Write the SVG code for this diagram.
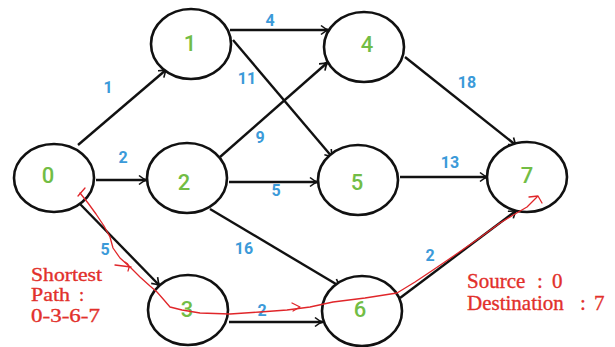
<svg xmlns="http://www.w3.org/2000/svg" width="615" height="347" viewBox="0 0 615 347">
  <style>
    .node { fill: #ffffff; stroke: #111111; stroke-width: 2.6; }
    .nlabel { font-family: Roboto, "Liberation Sans", sans-serif; font-size: 22px; font-weight: 500; fill: #72bd45; text-anchor: middle; }
    .edge { stroke: #111111; stroke-width: 2.4; fill: none; marker-end: url(#arrow); }
    .weight { font-family: Roboto, "Liberation Sans", sans-serif; font-size: 16px; font-weight: 700; fill: #3b9ad9; text-anchor: middle; }
    .note { font-family: "Liberation Serif", serif; font-size: 21px; fill: #e2302b; stroke: #e2302b; stroke-width: 0.35; }
    .note.small { font-size: 18.5px; }
    .route { stroke: #e0262a; stroke-width: 1.3; fill: none; stroke-linejoin: round; stroke-linecap: round; }
  </style>
  <defs>
    <marker id="arrow" markerUnits="userSpaceOnUse" markerWidth="12" markerHeight="12" refX="10" refY="6" orient="auto">
      <path d="M2,1.5 Q6,5 10,6 Q6,7 2,10.5" fill="none" stroke="#111111" stroke-width="1.6"/>
    </marker>
  </defs>

  <rect width="615" height="347" fill="#ffffff"/>

  <!-- connectors -->
  <g id="edges">
    <line class="edge" x1="78" y1="145" x2="167" y2="69"/>
    <line class="edge" x1="96" y1="180" x2="147" y2="180"/>
    <line class="edge" x1="80" y1="204" x2="160" y2="286" stroke-width="3.4"/>
    <line class="edge" x1="230" y1="30" x2="329" y2="30"/>
    <line class="edge" x1="233" y1="40" x2="333" y2="158"/>
    <line class="edge" x1="220" y1="157" x2="328" y2="62"/>
    <line class="edge" x1="229" y1="182" x2="318" y2="182"/>
    <line class="edge" x1="210" y1="209" x2="341" y2="287"/>
    <line class="edge" x1="229" y1="322" x2="323" y2="322" stroke-width="3"/>
    <line class="edge" x1="405" y1="57" x2="517" y2="146"/>
    <line class="edge" x1="400" y1="177" x2="488" y2="177"/>
    <line class="edge" x1="400" y1="298" x2="517" y2="210"/>
  </g>

  <!-- edge weights -->
  <g id="weights">
    <text class="weight" x="108" y="93">1</text>
    <text class="weight" x="123" y="163">2</text>
    <text class="weight" x="270" y="26">4</text>
    <text class="weight" x="247" y="84">11</text>
    <text class="weight" x="260" y="143">9</text>
    <text class="weight" x="467" y="88">18</text>
    <text class="weight" x="450" y="168">13</text>
    <text class="weight" x="276" y="196">5</text>
    <text class="weight" x="244" y="254">16</text>
    <text class="weight" x="105" y="255">5</text>
    <text class="weight" x="262" y="316">2</text>
    <text class="weight" x="430" y="261">2</text>
  </g>

  <!-- vertices -->
  <g id="node-0"><ellipse class="node" cx="54" cy="178" rx="40" ry="34"/><text class="nlabel" x="48" y="183">0</text></g>
  <g id="node-1"><ellipse class="node" cx="191" cy="44" rx="40" ry="35"/><text class="nlabel" x="190" y="51">1</text></g>
  <g id="node-2"><ellipse class="node" cx="187" cy="178" rx="40" ry="35"/><text class="nlabel" x="184" y="190">2</text></g>
  <g id="node-3"><ellipse class="node" cx="188" cy="310" rx="40" ry="35"/><text class="nlabel" x="187" y="317">3</text></g>
  <g id="node-4"><ellipse class="node" cx="364" cy="47" rx="40" ry="35"/><text class="nlabel" x="367" y="52">4</text></g>
  <g id="node-5"><ellipse class="node" cx="358" cy="180" rx="40" ry="35"/><text class="nlabel" x="357" y="190">5</text></g>
  <g id="node-6"><ellipse class="node" cx="362" cy="311" rx="40" ry="35"/><text class="nlabel" x="360" y="317">6</text></g>
  <g id="node-7"><ellipse class="node" cx="527" cy="177" rx="40" ry="35"/><text class="nlabel" x="527" y="183">7</text></g>

  <!-- highlighted route 0-3-6-7 -->
  <g id="route">
    <path class="route" d="M80,193 L88,203 L96,214 L104,226 L110,237 L113,248 L120,258 L130,267 L140,277 L150,286 L157,292 L164,300 L170,307 L182,310 L200,313 L230,314 L260,312 L287,310 L310,307 L333,302 L365,298 L397,293 L415,282 L433,270 L455,255 L478,239 L500,223 L515,214 L527,207 L537,197"/>
    <path class="route" d="M115,265 L131,267 M125,262 Q131,265 128,271"/>
    <path class="route" d="M78,196 L85,188"/>
    <path class="route" d="M292,303 L300,307 L293,311"/>
    <path class="route" d="M529,197 L538,196 L542,203"/>
  </g>

  <!-- annotations -->
  <g id="notes">
    <text class="note small" x="31" y="281" textLength="71" lengthAdjust="spacingAndGlyphs">Shortest</text>
    <text class="note small" y="301"><tspan x="31" textLength="39" lengthAdjust="spacingAndGlyphs">Path</tspan><tspan x="79">:</tspan></text>
    <text class="note small" x="31" y="322" textLength="69" lengthAdjust="spacingAndGlyphs">0-3-6-7</text>
    <text class="note" y="288"><tspan x="467">Source</tspan><tspan x="537">:</tspan><tspan x="552">0</tspan></text>
    <text class="note" y="310"><tspan x="467">Destination</tspan><tspan x="580">:</tspan><tspan x="594">7</tspan></text>
  </g>
</svg>
